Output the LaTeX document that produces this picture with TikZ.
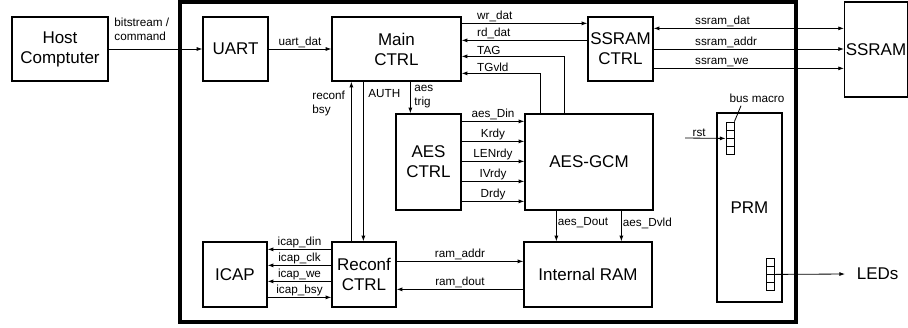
\documentclass[tikz,border=0pt]{standalone}
\usepackage{fontspec}
\setmainfont{Liberation Sans}
\usetikzlibrary{arrows.meta,calc}

\begin{document}
\begin{tikzpicture}[x=0.03cm,y=-0.03cm,
  blk/.style={draw,line width=1.1pt,inner sep=1pt,align=center,font=\fontsize{14.5}{17}\selectfont},
  lbl/.style={inner sep=1pt,align=left,font=\fontsize{10}{12}\selectfont},
  wire/.style={line width=0.7pt},
  fwd/.style={wire,-{Latex[length=1.7mm,width=1.2mm]}},
  bwd/.style={wire,{Latex[length=1.7mm,width=1.2mm]}-},
  bidir/.style={wire,{Latex[length=1.7mm,width=1.2mm]}-{Latex[length=1.7mm,width=1.2mm]}},
  tagl/.style={lbl,pos=0,anchor=south west,xshift=0.42cm},
  bm/.style={draw,line width=0.7pt,minimum size=0.24cm,inner sep=0pt}]
\useasboundingbox (0,0) rectangle (908,327);
% FPGA frame
\draw[line width=2.6pt] (180,2) rectangle (796,322);

% blocks
\node[blk,minimum width=2.88cm,minimum height=1.92cm] (host) at (60,49) {Host\\Comptuter};
\node[blk,minimum width=1.95cm,minimum height=1.92cm] (uart) at (235.5,49) {UART};
\node[blk,minimum width=3.87cm,minimum height=1.92cm] (main) at (396.5,49) {Main\\CTRL};
\node[blk,minimum width=1.95cm,minimum height=1.92cm] (ssramctrl) at (620.5,49) {SSRAM\\CTRL};
\node[blk,minimum width=1.86cm,minimum height=2.85cm] (ssram) at (876,49.5) {SSRAM};
\node[blk,minimum width=1.95cm,minimum height=2.88cm] (aesctrl) at (428.5,162) {AES\\CTRL};
\node[blk,minimum width=3.84cm,minimum height=2.88cm] (aesgcm) at (589,162) {AES-GCM};
\node[blk,minimum width=1.92cm,minimum height=1.95cm] (icap) at (235,274.5) {ICAP};
\node[blk,minimum width=1.92cm,minimum height=1.95cm] (reconf) at (364,274.5) {Reconf\\CTRL};
\node[blk,minimum width=3.84cm,minimum height=1.95cm] (ram) at (588,274.5) {Internal RAM};
\node[blk,minimum width=1.95cm,minimum height=5.67cm] (prm) at (749.5,207.5) {PRM};
\node[blk,draw=none,anchor=west] (leds) at (855,274) {LEDs};

% bus macros
\foreach \i in {1,...,4}{
  \node[bm] (bmt\i) at (730,{118+8*\i}) {};
  \node[bm] (bmb\i) at (770,{254+8*\i}) {};
}

% host side
\draw[fwd] (host) -- (uart);
\node[lbl,anchor=south west] (lbit) at (113,42) {bitstream /\\command};
\draw[fwd] (uart) -- (main) node[lbl,midway,above] (luart) {uart\_dat};

% main ctrl <-> ssram ctrl
\draw[fwd] ($(main.north east)+(0,7)$) coordinate (w0) -- (w0 -| ssramctrl.west) node[tagl] (lwr) {wr\_dat};
\draw[bwd] ($(main.north east)+(0,24)$) coordinate (w1) -- (w1 -| ssramctrl.west) node[tagl] (lrd) {rd\_dat};
\draw[bwd] ($(main.north east)+(0,40)$) coordinate (w2) -| ($(aesgcm.north west)+(40,0)$) node[tagl] (ltag) {TAG};
\draw[bwd] ($(main.north east)+(0,57)$) coordinate (w3) -| ($(aesgcm.north west)+(16,0)$) node[tagl] (ltgv) {TGvld};

% ssram ctrl <-> ssram
\draw[bidir] ($(ssramctrl.north east)+(0,12)$) coordinate (s0) -- (s0 -| ssram.west) node[lbl,pos=0,anchor=south west,xshift=1.2cm] (lsd) {ssram\_dat};
\draw[fwd] (ssramctrl.east) -- (ssramctrl.east -| ssram.west) node[lbl,pos=0,anchor=south west,xshift=1.2cm] (lsa) {ssram\_addr};
\draw[fwd] ($(ssramctrl.north east)+(0,52)$) coordinate (s2) -- (s2 -| ssram.west) node[lbl,pos=0,anchor=south west,xshift=1.2cm] (lsw) {ssram\_we};

% vertical links
\draw[fwd] ($(reconf.north west)+(20,0)$) coordinate (r0) -- (r0 |- main.south);
\node[lbl,anchor=west] (lrb) at (311,103) {reconf\\bsy};
\draw[fwd] ($(main.south west)+(32,0)$) coordinate (a0) -- (a0 |- reconf.north);
\node[lbl,anchor=west] (lauth) at (367,94) {AUTH};
\draw[fwd] ($(main.south west)+(79,0)$) coordinate (a1) -- (a1 |- aesctrl.north);
\node[lbl,anchor=west] (ltrig) at (413,97) {aes\\trig};

% aes ctrl -> aes-gcm
\foreach \lab [count=\i] in {aes\_Din,Krdy,LENrdy,IVrdy,Drdy}
  \draw[fwd] ($(aesctrl.north east)+(0,{20*\i-12})$) coordinate (c\i) -- (c\i -| aesgcm.west) node[lbl,midway,above] (lc\i) {\lab};

% aes-gcm -> ram
\draw[fwd] ($(aesgcm.south west)+(32,0)$) coordinate (d0) -- (d0 |- ram.north) node[lbl,pos=.4,right] (ldout) {aes\_Dout};
\draw[fwd] ($(aesgcm.south west)+(97,0)$) coordinate (d1) -- (d1 |- ram.north) node[lbl,pos=.4,right] (ldvld) {aes\_Dvld};

% reconf ctrl <-> icap
\foreach \lab [count=\i] in {icap\_din,icap\_clk,icap\_we}
  \draw[fwd] ($(reconf.north west)+(0,{16*\i-8})$) coordinate (k\i) -- (k\i -| icap.east) node[lbl,midway,above] (lk\i) {\lab};
\draw[bwd] ($(reconf.north west)+(0,56)$) coordinate (k4) -- (k4 -| icap.east) node[lbl,midway,above] (lk4) {icap\_bsy};

% reconf ctrl <-> ram
\draw[fwd] ($(reconf.north east)+(0,20)$) coordinate (m0) -- (m0 -| ram.west) node[lbl,midway,above] (laddr) {ram\_addr};
\draw[bwd] ($(reconf.north east)+(0,48)$) coordinate (m1) -- (m1 -| ram.west) node[lbl,midway,above] (lrdout) {ram\_dout};

% prm
\node[lbl] (lbm) at (757,98) {bus macro};
\draw[wire] ($(lbm.south)+(-16,2)$) -- (bmt1.north east);
\coordinate (rst) at (685,138);
\draw[fwd] (rst) -- (bmt2.south west) node[lbl,pos=.35,above] (lrst) {rst};
\draw[fwd] (bmb2.south east) -- ([xshift=-0.3cm]leds.west);
\end{tikzpicture}
\end{document}
